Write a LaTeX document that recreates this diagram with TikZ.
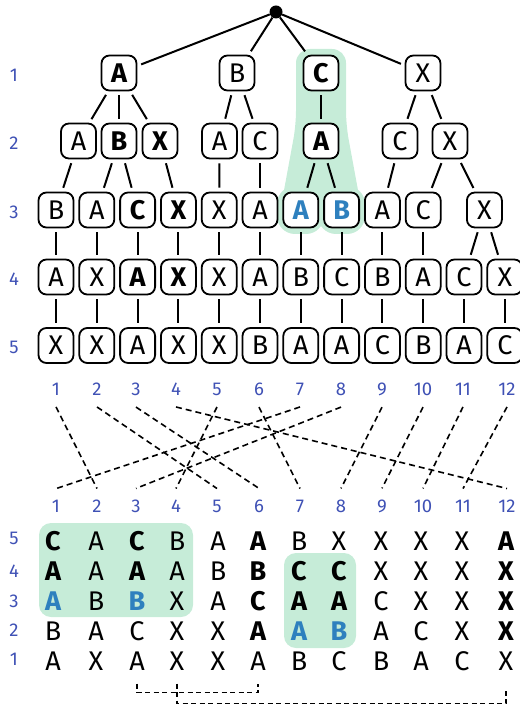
\documentclass[tikz,border=0pt]{standalone}
\usepackage{fontspec}
\setmainfont{Fira Sans}
\definecolor{numblue}{RGB}{63,81,181}
\definecolor{pickblue}{RGB}{46,128,190}
\definecolor{hlgreen}{RGB}{198,236,216}
\newcommand{\cellfnt}{\fontsize{27}{32}\selectfont}
\newcommand{\numfnt}{\fontsize{18.5}{22}\selectfont}
\begin{document}
\begin{tikzpicture}[x=1pt,y=-1pt,
    tnode/.style={draw,line width=1.8pt,rounded corners=8pt,fill=white,minimum width=35pt,minimum height=35pt,inner sep=0pt,font=\cellfnt},
    tbold/.style={font=\cellfnt\bfseries},
    tpick/.style={font=\cellfnt\bfseries,text=pickblue},
    tentry/.style={inner sep=0pt,font=\cellfnt},
    colnum/.style={inner xsep=0pt,inner ysep=11.5pt,text=numblue,font=\numfnt},
    branch/.style={line width=2pt,shorten <=4pt,shorten >=4pt},
    permline/.style={line width=1.6pt,dash pattern=on 6pt off 4pt},
    pairline/.style={line width=1.3pt,dash pattern=on 5pt off 3.5pt}]
    \useasboundingbox (0,0) rectangle (519,708);
    % highlights
    \fill[hlgreen,rounded corners=14pt] (280,212) -- (296,125) -- (296,49) -- (346,49) -- (346,125) -- (362,212) -- cycle;
    \fill[hlgreen,rounded corners=18pt] (277,186) rectangle (324,234);
    \fill[hlgreen,rounded corners=18pt] (318,186) rectangle (365,234);
    \fill[hlgreen,rounded corners=12pt] (39,523) rectangle (193,617);
    \fill[hlgreen,rounded corners=12pt] (284,553) rectangle (356,648);
    % root
    \node[circle,fill,inner sep=0pt,minimum size=13pt] (r) at (276,12) {};
    % level 1
    \node[tnode,tbold] (a1) at (119,73) {A};
    \node[tnode] (a2) at (237,73) {B};
    \node[tnode,tbold] (a3) at (321,73) {C};
    \node[tnode] (a4) at (423,73) {X};
    % level 2
    \node[tnode] (b1) at (78.5,141) {A};
    \node[tnode,tbold] (b2) at (119,141) {B};
    \node[tnode,tbold] (b3) at (160,141) {X};
    \node[tnode] (b4) at (219.5,141) {A};
    \node[tnode] (b5) at (260,141) {C};
    \node[tnode,tbold] (b6) at (321,141) {A};
    \node[tnode] (b7) at (400,141) {C};
    \node[tnode] (b8) at (450,141) {X};
    % level 3
    \node[tnode] (c1) at (56,210) {B};
    \node[tnode] (c2) at (96.8,210) {A};
    \node[tnode,tbold] (c3) at (137.6,210) {C};
    \node[tnode,tbold] (c4) at (178.4,210) {X};
    \node[tnode] (c5) at (219.2,210) {X};
    \node[tnode] (c6) at (260,210) {A};
    \node[tnode,tpick] (c7) at (300.8,210) {A};
    \node[tnode,tpick] (c8) at (341.6,210) {B};
    \node[tnode] (c9) at (382.4,210) {A};
    \node[tnode] (c10) at (423.2,210) {C};
    \node[tnode] (c11) at (484.4,210) {X};
    % level 4
    \node[tnode] (d1) at (56,277) {A};
    \node[tnode] (d2) at (96.8,277) {X};
    \node[tnode,tbold] (d3) at (137.6,277) {A};
    \node[tnode,tbold] (d4) at (178.4,277) {X};
    \node[tnode] (d5) at (219.2,277) {X};
    \node[tnode] (d6) at (260,277) {A};
    \node[tnode] (d7) at (300.8,277) {B};
    \node[tnode] (d8) at (341.6,277) {C};
    \node[tnode] (d9) at (382.4,277) {B};
    \node[tnode] (d10) at (423.2,277) {A};
    \node[tnode] (d11) at (464,277) {C};
    \node[tnode] (d12) at (504.8,277) {X};
    % level 5
    \node[tnode] (e1) at (56,345.5) {X};
    \node[tnode] (e2) at (96.8,345.5) {X};
    \node[tnode] (e3) at (137.6,345.5) {A};
    \node[tnode] (e4) at (178.4,345.5) {X};
    \node[tnode] (e5) at (219.2,345.5) {X};
    \node[tnode] (e6) at (260,345.5) {B};
    \node[tnode] (e7) at (300.8,345.5) {A};
    \node[tnode] (e8) at (341.6,345.5) {A};
    \node[tnode] (e9) at (382.4,345.5) {C};
    \node[tnode] (e10) at (423.2,345.5) {B};
    \node[tnode] (e11) at (464,345.5) {A};
    \node[tnode] (e12) at (504.8,345.5) {C};
    % tree edges
    \draw[branch,shorten <=0pt] (r) -- (a1);
    \draw[branch,shorten <=0pt] (r) -- (a2);
    \draw[branch,shorten <=0pt] (r) -- (a3);
    \draw[branch,shorten <=0pt] (r) -- (a4);
    \draw[branch] (a1) -- (b1);
    \draw[branch] (a1) -- (b2);
    \draw[branch] (a1) -- (b3);
    \draw[branch] (a2) -- (b4);
    \draw[branch] (a2) -- (b5);
    \draw[branch] (a3) -- (b6);
    \draw[branch] (a4) -- (b7);
    \draw[branch] (a4) -- (b8);
    \draw[branch] (b1) -- (c1);
    \draw[branch] (b2) -- (c2);
    \draw[branch] (b2) -- (c3);
    \draw[branch] (b3) -- (c4);
    \draw[branch] (b4) -- (c5);
    \draw[branch] (b5) -- (c6);
    \draw[branch] (b6) -- (c7);
    \draw[branch] (b6) -- (c8);
    \draw[branch] (b7) -- (c9);
    \draw[branch] (b8) -- (c10);
    \draw[branch] (b8) -- (c11);
    \draw[branch] (c1) -- (d1);
    \draw[branch] (c2) -- (d2);
    \draw[branch] (c3) -- (d3);
    \draw[branch] (c4) -- (d4);
    \draw[branch] (c5) -- (d5);
    \draw[branch] (c6) -- (d6);
    \draw[branch] (c7) -- (d7);
    \draw[branch] (c8) -- (d8);
    \draw[branch] (c9) -- (d9);
    \draw[branch] (c10) -- (d10);
    \draw[branch] (c11) -- (d11);
    \draw[branch] (c11) -- (d12);
    \draw[branch] (d1) -- (e1);
    \draw[branch] (d2) -- (e2);
    \draw[branch] (d3) -- (e3);
    \draw[branch] (d4) -- (e4);
    \draw[branch] (d5) -- (e5);
    \draw[branch] (d6) -- (e6);
    \draw[branch] (d7) -- (e7);
    \draw[branch] (d8) -- (e8);
    \draw[branch] (d9) -- (e9);
    \draw[branch] (d10) -- (e10);
    \draw[branch] (d11) -- (e11);
    \draw[branch] (d12) -- (e12);
    % row labels
    \node[colnum] (l1) at (14,75) {1};
    \node[colnum] (l2) at (14,143) {2};
    \node[colnum] (l3) at (14,212) {3};
    \node[colnum] (l4) at (14,279) {4};
    \node[colnum] (l5) at (14,347) {5};
    \node[colnum] (m5) at (14,538) {5};
    \node[colnum] (m4) at (14,571) {4};
    \node[colnum] (m3) at (14,601) {3};
    \node[colnum] (m2) at (14,630) {2};
    \node[colnum] (m1) at (14,659) {1};
    % column labels
    \node[colnum] (t1) at (56,389) {1};
    \node[colnum] (t2) at (97,389) {2};
    \node[colnum] (t3) at (136,389) {3};
    \node[colnum] (t4) at (176,389) {4};
    \node[colnum] (t5) at (217,389) {5};
    \node[colnum] (t6) at (259,389) {6};
    \node[colnum] (t7) at (300,389) {7};
    \node[colnum] (t8) at (341,389) {8};
    \node[colnum] (t9) at (382,389) {9};
    \node[colnum] (t10) at (423,389) {10};
    \node[colnum] (t11) at (463,389) {11};
    \node[colnum] (t12) at (507,389) {12};
    \node[colnum] (u1) at (56,506.5) {1};
    \node[colnum] (u2) at (97,506.5) {2};
    \node[colnum] (u3) at (136,506.5) {3};
    \node[colnum] (u4) at (176,506.5) {4};
    \node[colnum] (u5) at (217,506.5) {5};
    \node[colnum] (u6) at (259,506.5) {6};
    \node[colnum] (u7) at (300,506.5) {7};
    \node[colnum] (u8) at (341,506.5) {8};
    \node[colnum] (u9) at (382,506.5) {9};
    \node[colnum] (u10) at (423,506.5) {10};
    \node[colnum] (u11) at (463,506.5) {11};
    \node[colnum] (u12) at (507,506.5) {12};
    % permutation
    \draw[permline] (t1.south) -- (u2.north);
    \draw[permline] (t2.south) -- (u5.north);
    \draw[permline] (t3.south) -- (u6.north);
    \draw[permline] (t4.south) -- (u12.north);
    \draw[permline] (t5.south) -- (u4.north);
    \draw[permline] (t6.south) -- (u7.north);
    \draw[permline] (t7.south) -- (u1.north);
    \draw[permline] (t8.south) -- (u3.north);
    \draw[permline] (t9.south) -- (u8.north);
    \draw[permline] (t10.south) -- (u9.north);
    \draw[permline] (t11.south) -- (u10.north);
    \draw[permline] (t12.south) -- (u11.north);
    % table, row 5
    \node[tentry,tbold] (p5-1) at (53,541) {C};
    \node[tentry] (p5-2) at (96,541) {A};
    \node[tentry,tbold] (p5-3) at (137,541) {C};
    \node[tentry] (p5-4) at (177,541) {B};
    \node[tentry] (p5-5) at (218,541) {A};
    \node[tentry,tbold] (p5-6) at (258,541) {A};
    \node[tentry] (p5-7) at (299,541) {B};
    \node[tentry] (p5-8) at (339,541) {X};
    \node[tentry] (p5-9) at (381,541) {X};
    \node[tentry] (p5-10) at (421,541) {X};
    \node[tentry] (p5-11) at (462,541) {X};
    \node[tentry,tbold] (p5-12) at (506,541) {A};
    % row 4
    \node[tentry,tbold] (p4-1) at (53,571) {A};
    \node[tentry] (p4-2) at (96,571) {A};
    \node[tentry,tbold] (p4-3) at (137,571) {A};
    \node[tentry] (p4-4) at (177,571) {A};
    \node[tentry] (p4-5) at (218,571) {B};
    \node[tentry,tbold] (p4-6) at (258,571) {B};
    \node[tentry,tbold] (p4-7) at (299,571) {C};
    \node[tentry,tbold] (p4-8) at (339,571) {C};
    \node[tentry] (p4-9) at (381,571) {X};
    \node[tentry] (p4-10) at (421,571) {X};
    \node[tentry] (p4-11) at (462,571) {X};
    \node[tentry,tbold] (p4-12) at (506,571) {X};
    % row 3
    \node[tentry,tpick] (p3-1) at (53,601) {A};
    \node[tentry] (p3-2) at (96,601) {B};
    \node[tentry,tpick] (p3-3) at (137,601) {B};
    \node[tentry] (p3-4) at (177,601) {X};
    \node[tentry] (p3-5) at (218,601) {A};
    \node[tentry,tbold] (p3-6) at (258,601) {C};
    \node[tentry,tbold] (p3-7) at (299,601) {A};
    \node[tentry,tbold] (p3-8) at (339,601) {A};
    \node[tentry] (p3-9) at (381,601) {C};
    \node[tentry] (p3-10) at (421,601) {X};
    \node[tentry] (p3-11) at (462,601) {X};
    \node[tentry,tbold] (p3-12) at (506,601) {X};
    % row 2
    \node[tentry] (p2-1) at (53,631) {B};
    \node[tentry] (p2-2) at (96,631) {A};
    \node[tentry] (p2-3) at (137,631) {C};
    \node[tentry] (p2-4) at (177,631) {X};
    \node[tentry] (p2-5) at (218,631) {X};
    \node[tentry,tbold] (p2-6) at (258,631) {A};
    \node[tentry,tpick] (p2-7) at (299,631) {A};
    \node[tentry,tpick] (p2-8) at (339,631) {B};
    \node[tentry] (p2-9) at (381,631) {A};
    \node[tentry] (p2-10) at (421,631) {C};
    \node[tentry] (p2-11) at (462,631) {X};
    \node[tentry,tbold] (p2-12) at (506,631) {X};
    % row 1
    \node[tentry] (p1-1) at (53,661) {A};
    \node[tentry] (p1-2) at (96,661) {X};
    \node[tentry] (p1-3) at (137,661) {A};
    \node[tentry] (p1-4) at (177,661) {X};
    \node[tentry] (p1-5) at (218,661) {X};
    \node[tentry] (p1-6) at (258,661) {A};
    \node[tentry] (p1-7) at (299,661) {B};
    \node[tentry] (p1-8) at (339,661) {C};
    \node[tentry] (p1-9) at (381,661) {B};
    \node[tentry] (p1-10) at (421,661) {A};
    \node[tentry] (p1-11) at (462,661) {C};
    \node[tentry] (p1-12) at (506,661) {X};
    % pairs
    \draw[pairline] ([yshift=-13pt]p1-3.south) -- ++(0,9) -| ([yshift=-13pt]p1-6.south);
    \draw[pairline] ([yshift=-13pt]p1-4.south) -- ++(0,20) -| ([yshift=-20pt]p1-12.south);
\end{tikzpicture}
\end{document}
